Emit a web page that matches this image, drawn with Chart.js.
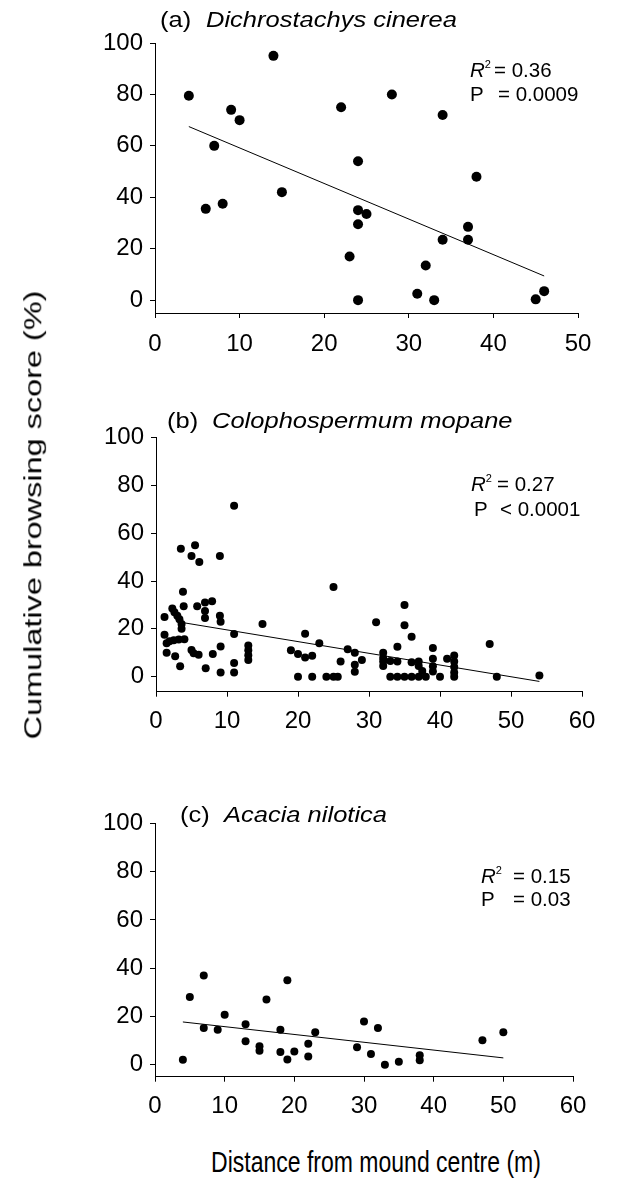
<!DOCTYPE html>
<html>
<head>
<meta charset="utf-8">
<script src="https://cdn.jsdelivr.net/npm/chart.js@4.4.1/dist/chart.umd.min.js"></script>
<style>
  body { margin: 0; background: #fff; }
  #page { position: relative; width: 621px; height: 1192px; overflow: hidden;
          font-family: "Liberation Sans", Arial, sans-serif; color: #000; }
  canvas { position: absolute; left: 0; }
  .txt { position: absolute; white-space: pre; line-height: 1; }
  .title { font-size: 25.5px; transform: scaleY(0.9); transform-origin: left center; }
  .stat { font-size: 20.5px; }
  .stat sup { font-size: 11px; vertical-align: 9px; line-height: 0; }
  #ytitle { font-size: 23.5px; left: 34px; top: 515px;
            transform: translate(-50%, -50%) rotate(-90deg) scaleX(1.38); }
  #xtitle { font-size: 23px; left: 376px; top: 1162px;
            transform: translate(-50%, -50%) scaleY(1.3); }
</style>
</head>
<body>
<div id="page">
  <canvas id="chartA" width="621" height="370" style="top:0"></canvas>
  <canvas id="chartB" width="621" height="380" style="top:370px"></canvas>
  <canvas id="chartC" width="621" height="370" style="top:750px"></canvas>

  <div class="txt title" style="left:160px; top:7px">(a)</div>
  <div class="txt title" style="left:206px; top:7px"><i>Dichrostachys cinerea</i></div>
  <div class="txt stat" style="left:470px; top:60px"><i>R</i><sup>2</sup></div>
  <div class="txt stat" style="left:494px; top:60px">= 0.36</div>
  <div class="txt stat" style="left:470px; top:84px">P</div>
  <div class="txt stat" style="left:498px; top:84px">= 0.0009</div>

  <div class="txt title" style="left:167px; top:408px">(b)</div>
  <div class="txt title" style="left:212px; top:408px"><i>Colophospermum mopane</i></div>
  <div class="txt stat" style="left:471px; top:474px"><i>R</i><sup>2</sup></div>
  <div class="txt stat" style="left:497px; top:474px">= 0.27</div>
  <div class="txt stat" style="left:474px; top:499px">P</div>
  <div class="txt stat" style="left:500px; top:499px">&lt; 0.0001</div>

  <div class="txt title" style="left:180px; top:802px">(c)</div>
  <div class="txt title" style="left:224px; top:802px"><i>Acacia nilotica</i></div>
  <div class="txt stat" style="left:481px; top:866px"><i>R</i><sup>2</sup></div>
  <div class="txt stat" style="left:513px; top:866px">= 0.15</div>
  <div class="txt stat" style="left:481px; top:889px">P</div>
  <div class="txt stat" style="left:513px; top:889px">= 0.03</div>

  <div class="txt" id="ytitle">Cumulative browsing score (%)</div>
  <div class="txt" id="xtitle">Distance from mound centre (m)</div>
</div>
<script>
// values: distance (m) vs cumulative browsing score (%)
const yTicks = [0, 20, 40, 60, 80, 100];
const xTicksA = [0, 10, 20, 30, 40, 50];
const xTicksBC = [0, 10, 20, 30, 40, 50, 60];

// (a) Dichrostachys cinerea
const aX = [4, 14, 9, 10, 7, 6, 8, 15, 22, 28, 34, 38, 24, 24, 25, 24, 23, 24, 31, 32, 33, 34, 37, 37, 45, 46];
const aY = [79.5, 95, 74, 70, 60, 35.5, 37.5, 42, 75, 80, 72, 48, 54, 35, 33.5, 29.5, 17, 0, 2.5, 13.5, 0, 23.5, 28.5, 23.5, 0.3, 3.5];
const aFitX = [4, 46];
const aFitY = [67.5, 9.4];

// (b) Colophospermum mopane
const bX = [1.2, 1.2, 1.5, 1.5, 1.9, 2.3, 2.5, 2.6, 2.7, 3, 3.2, 3.3, 3.4, 3.5, 3.6, 3.6, 3.8, 3.9, 4,
            5, 5, 5.3, 5.5, 5.8, 6, 6.1, 6.9, 6.9, 6.9, 7, 7.9, 8, 9, 9, 9.1, 9.1, 9.1,
            11, 11, 11, 11, 13, 13, 13, 13, 15,
            19, 20, 20, 21, 21, 22, 22, 23, 24, 25, 25, 25.6, 26, 27, 28, 28, 28, 29,
            31, 32, 32, 32, 32, 33, 33, 34, 34, 34, 35, 35, 35, 36, 36, 36, 37, 37, 37, 37.5, 38,
            39, 39, 39, 39, 40, 41, 42, 42, 42, 42, 42, 47, 48, 54];
const bY = [25, 17.5, 14, 10, 14.8, 28.5, 15.2, 27, 8.5, 25.5, 15.5, 24, 4.3, 53.5, 22, 20, 35.5, 29.5, 15.7,
            50.5, 11.2, 9.8, 55, 29.5, 9.2, 48, 31, 27.5, 24.5, 3.5, 31.6, 9.5, 50.5, 25.5, 23, 12.6, 1.7,
            71.5, 17.8, 5.7, 1.7, 13, 11, 9, 7, 22,
            11, 9.5, 0, 18, 8, 8.7, 0, 14, 0, 37.5, 0, 0, 6.3, 11.5, 10, 5, 2, 7,
            22.8, 10, 7.8, 6.3, 4.5, 6.5, 0, 12.5, 6.3, 0, 30, 21.5, 0, 16.7, 6, 0, 6.3, 4.5, 0, 2.4, 0,
            12, 7.5, 4.3, 2.2, 0, 7.5, 8.8, 6.3, 4, 1.7, 0, 13.7, 0, 0.5];
const bFitX = [3, 54];
const bFitY = [23, -2];

// (c) Acacia nilotica
const cX = [4, 5, 7, 7, 9, 10, 13, 13, 15, 15, 16, 18, 18, 19, 19, 20, 22, 22, 23, 29, 30, 31, 32, 33, 35, 38, 38, 47, 50];
const cY = [2, 28, 37, 15.2, 14.5, 20.7, 16.8, 9.7, 7.6, 5.8, 27, 14.5, 5.2, 35, 2.1, 5.5, 8.7, 3.4, 13.4, 7.2, 17.9, 4.4, 15.2, 0, 1.2, 3.9, 1.8, 10.1, 13.4];
const cFitX = [4, 50];
const cFitY = [17.7, 2.8];

const tickFont = { family: '"Liberation Sans", Arial, sans-serif', size: 24 };

const toPts = (xs, ys) => xs.map((x, i) => ({ x, y: ys[i] }));

function makePanel(id, opt) {
  const canvas = document.getElementById(id);
  const h = canvas.height;
  const a = opt.area;
  return new Chart(canvas, {
    type: "scatter",
    data: {
      datasets: [
        { data: toPts(opt.xs, opt.ys), pointRadius: opt.r, pointHoverRadius: opt.r,
          backgroundColor: "#000", borderWidth: 0, clip: false },
        { data: toPts(opt.fx, opt.fy), showLine: true, borderColor: "#000", borderWidth: 1,
          pointRadius: 0, pointHoverRadius: 0, clip: false },
      ],
    },
    options: {
      responsive: false,
      animation: false,
      events: [],
      layout: { padding: { top: a.top, right: 621 - a.right, left: 0, bottom: 0 } },
      plugins: { legend: { display: false }, tooltip: { enabled: false } },
      scales: {
        x: {
          type: "linear", min: 0, max: opt.xMax,
          afterBuildTicks: (s) => { s.ticks = opt.xTicks.map((v) => ({ value: v })); },
          afterFit: (s) => { s.height = h - a.bottom; },
          grid: { drawOnChartArea: false, tickLength: 5, color: "#000" },
          border: { color: "#000", width: 1 },
          ticks: { font: tickFont, color: "#000", padding: opt.xPad, maxRotation: 0, autoSkip: false },
        },
        y: {
          type: "linear", min: opt.yMin, max: 100,
          afterBuildTicks: (s) => { s.ticks = yTicks.map((v) => ({ value: v })); },
          afterFit: (s) => { s.width = a.left; },
          grid: { drawOnChartArea: false, tickLength: 5, color: "#000" },
          border: { color: "#000", width: 1 },
          ticks: { font: tickFont, color: "#000", padding: 7 },
        },
      },
    },
  });
}

makePanel("chartA", { xs: aX, ys: aY, fx: aFitX, fy: aFitY, xMax: 50, yMin: -5, xTicks: xTicksA,
  r: 5, xPad: 12, area: { top: 43, bottom: 313, left: 155, right: 578 } });
makePanel("chartB", { xs: bX, ys: bY, fx: bFitX, fy: bFitY, xMax: 60, yMin: -6.3, xTicks: xTicksBC,
  r: 4, xPad: 10, area: { top: 67.7, bottom: 321.7, left: 156, right: 582 } });
makePanel("chartC", { xs: cX, ys: cY, fx: cFitX, fy: cFitY, xMax: 60, yMin: -5, xTicks: xTicksBC,
  r: 4, xPad: 10, area: { top: 73.5, bottom: 326.7, left: 155, right: 573 } });
</script>
</body>
</html>
